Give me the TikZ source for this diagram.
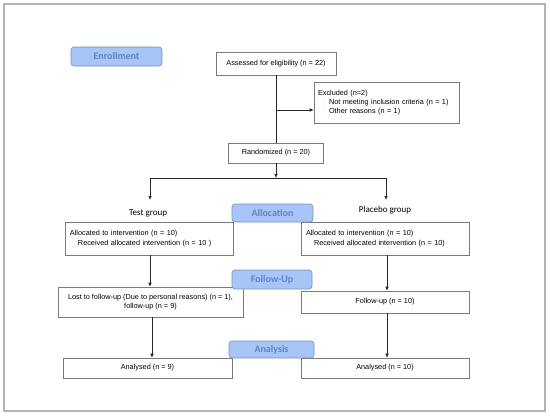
\documentclass[tikz,border=0pt]{standalone}
\usepackage{fontspec}
\setmainfont{Liberation Sans}
\newfontfamily\calfont{Carlito}
\usetikzlibrary{arrows.meta}
\definecolor{phfill}{HTML}{A8C5F7}
\definecolor{phdraw}{HTML}{7790C0}
\definecolor{phtext}{HTML}{5E85C2}
\definecolor{boxdraw}{HTML}{7A7A7A}
\definecolor{framecol}{HTML}{B4B4B4}
\newcommand\bulmark[1]{\makebox[#1][c]{\color{black!40}˙}}
\begin{document}
\begin{tikzpicture}[x=1pt,y=-1pt,
  box/.style={draw=boxdraw,line width=0.6pt,fill=white,inner sep=0pt,font=\fontsize{7.3}{9.3}\selectfont},
  phase/.style={draw=phdraw,fill=phfill,rounded corners=3pt,line width=0.6pt,inner sep=0pt,font=\calfont\bfseries\fontsize{10}{12}\selectfont,text=phtext},
  grp/.style={font=\calfont\fontsize{9}{11}\selectfont,inner sep=0pt},
  conn/.style={draw=black!85,line width=0.6pt},
  arr/.style={conn,-{Latex[length=4pt,width=3.6pt]}}]
\useasboundingbox (0,0) rectangle (550,416);
\draw[framecol,line width=1.2pt] (4,4) rectangle (545,411);

% boxes
\node[box,minimum width=120pt,minimum height=23pt] (assess) at (276,63.5) {Assessed for eligibility (n = 22)};
\node[box,minimum width=145pt,minimum height=41pt,text width=137pt,align=left] (excl) at (386.5,102.5)
  {Excluded (n=2)\\\bulmark{11pt}Not meeting inclusion criteria (n = 1)\\\bulmark{11pt}Other reasons (n = 1)};
\node[box,minimum width=95pt,minimum height=20pt] (rand) at (276,153) {Randomized (n = 20)};
\node[grp] (testg) at (148,213) {Test group};
\node[grp] (placg) at (385,210) {Placebo group};
\node[box,minimum width=168pt,minimum height=33pt,text width=158pt,align=left] (allocL) at (149,238.5)
  {Allocated to intervention (n = 10)\\\bulmark{8pt}Received allocated intervention (n = 10 )};
\node[box,minimum width=168pt,minimum height=33pt,text width=158pt,align=left] (allocR) at (385,238.5)
  {Allocated to intervention (n = 10)\\\bulmark{8pt}Received allocated intervention (n = 10)};
\node[box,minimum width=185pt,minimum height=30pt,align=center] (followL) at (150.5,302)
  {Lost to follow-up (Due to personal reasons) (n = 1),\\follow-up (n = 9)};
\node[box,minimum width=168pt,minimum height=22pt] (followR) at (385,302) {Follow-up (n = 10)};
\node[box,minimum width=169pt,minimum height=20pt] (anaL) at (147.5,368) {Analysed (n = 9)};
\node[box,minimum width=168pt,minimum height=20pt] (anaR) at (385,368) {Analysed (n = 10)};

% coordinates
\coordinate (exj) at (276,110);
\coordinate (split) at (276,178);
\coordinate (tl) at (150,178);
\coordinate (tr) at (386,178);
\coordinate (tla) at (150,200);
\coordinate (tra) at (386,200);
\coordinate (fl) at (152,317);
\coordinate (rr) at (387,255);

% connectors
\draw[conn] (assess.south) -- (rand.north);
\draw[arr] (exj) -- (exj -| excl.west);
\draw[arr] (rand.south) -- (split);
\draw[conn] (tl) -- (tr);
\draw[arr] (tl) -- (tla);
\draw[arr] (tr) -- (tra);
\draw[arr] (allocL.south -| tl) -- (followL.north -| tl);
\draw[arr] (rr) -- (followR.north -| rr);
\draw[arr] (fl) -- (anaL.north -| fl);
\draw[arr] (followR.south -| rr) -- (anaR.north -| rr);

% phase labels
\node[phase,minimum width=91pt,minimum height=19pt] (enroll) at (116.5,56.5) {Enrollment};
\node[phase,minimum width=81pt,minimum height=18pt] (allocph) at (272.5,213) {Allocation};
\node[phase,minimum width=80pt,minimum height=19pt] (followph) at (272,279.5) {Follow-Up};
\node[phase,minimum width=85pt,minimum height=17pt] (anaph) at (271.5,349.5) {Analysis};
\end{tikzpicture}
\end{document}
